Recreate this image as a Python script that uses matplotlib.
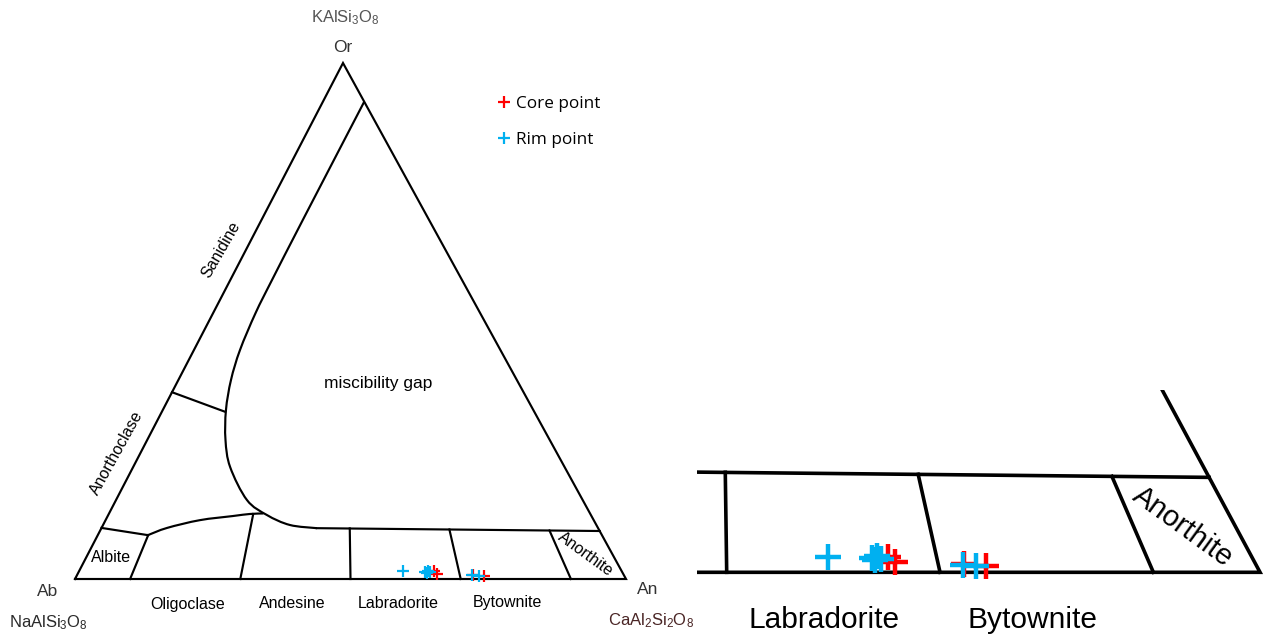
import numpy as np
import matplotlib
matplotlib.use("Agg")
import matplotlib.pyplot as plt
from matplotlib.path import Path
from matplotlib.patches import PathPatch

# ---------------- data (mole fractions) ----------------
core_an = [0.644, 0.653, 0.719, 0.740]
core_or = [0.015, 0.010, 0.008, 0.006]
rim_an = [0.588, 0.629, 0.633, 0.638, 0.633, 0.718, 0.731]
rim_or = [0.015, 0.014, 0.016, 0.013, 0.012, 0.007, 0.006]

# feldspar field boundaries (An, Or fractions)
gap_an = [0.075, 0.075, 0.0757, 0.077, 0.0836, 0.0955, 0.1147, 0.1421, 0.176, 0.2377,
          0.288, 0.339, 0.391]
gap_or = [0.925, 0.700, 0.5795, 0.5155, 0.4438, 0.3857, 0.3275, 0.2694, 0.217, 0.153,
          0.124, 0.1047, 0.0985]
band_an = [0.391, 0.907]
band_or = [0.0985, 0.093]
san_an = [0.0, 0.115]
san_or = [0.362, 0.324]
alb_an = [0.0, 0.091]
alb_or = [0.099, 0.085]
olig_an = [0.091, 0.119, 0.171, 0.227, 0.256, 0.280]
olig_or = [0.085, 0.099, 0.114, 0.122, 0.126, 0.127]
div_ratio = [0.1, 0.3, 0.5, 0.7, 0.9]
div_top_or = [0.085, 0.126, 0.098, 0.096, 0.094]
tri_an = [0.0, 1.0, 0.0, 0.0]
tri_or = [0.0, 0.0, 1.0, 0.0]

# ---------------- layout ----------------
W, H, DPI = 1263, 642, 100
SKEW, HGT = 268 / 551, 516 / 551
RED, BLUE = "#ff0000", "#00b0f0"
FONT = "Liberation Sans"

plt.rcParams["mathtext.fontset"] = "custom"
plt.rcParams["mathtext.rm"] = FONT
plt.rcParams["mathtext.it"] = FONT
plt.rcParams["font.family"] = [FONT, "DejaVu Sans"]


def cart(an, or_):
    an = np.asarray(an, float)
    or_ = np.asarray(or_, float)
    return an + SKEW * or_, HGT * or_


def smooth_path(x, y):
    pts = np.column_stack([x, y])
    n = len(pts)
    verts = [pts[0]]
    codes = [Path.MOVETO]
    for i in range(n - 1):
        p0 = pts[max(i - 1, 0)]
        p1 = pts[i]
        p2 = pts[i + 1]
        p3 = pts[min(i + 2, n - 1)]
        verts += [p1 + (p2 - p0) / 6, p2 - (p3 - p1) / 6, p2]
        codes += [Path.CURVE4] * 3
    return Path(verts, codes)


def draw_diagram(ax, lw, ms, mew):
    x, y = cart(tri_an, tri_or)
    ax.plot(x, y, color="black", lw=lw, solid_joinstyle="miter")
    gx, gy = cart(gap_an, gap_or)
    ax.add_patch(PathPatch(smooth_path(gx, gy), fill=False, lw=lw, ec="black"))
    ox, oy = cart(olig_an, olig_or)
    ax.add_patch(PathPatch(smooth_path(ox, oy), fill=False, lw=lw, ec="black"))
    for a, o in [(band_an, band_or), (san_an, san_or), (alb_an, alb_or)]:
        x, y = cart(a, o)
        ax.plot(x, y, color="black", lw=lw)
    for r, ot in zip(div_ratio, div_top_or):
        x, y = cart([r, r * (1 - ot)], [0.0, ot])
        ax.plot(x, y, color="black", lw=lw)
    cx, cy = cart(core_an, core_or)
    hc, = ax.plot(cx, cy, ls="none", marker="+", ms=ms, mew=mew, color=RED)
    rx, ry = cart(rim_an, rim_or)
    hr, = ax.plot(rx, ry, ls="none", marker="+", ms=ms, mew=mew, color=BLUE)
    return hc, hr


fig = plt.figure(figsize=(W / DPI, H / DPI), dpi=DPI)

# main triangle
ax = fig.add_axes([0, 0, 1, 1])
ax.set_xlim(-75 / 551, (W - 75) / 551)
ax.set_ylim((579 - H) / 551, 579 / 551)
ax.axis("off")
hc, hr = draw_diagram(ax, lw=1.55, ms=9, mew=1.6)

# zoomed inset
ins = fig.add_axes([697 / W, 0, (W - 697) / W, (H - 390) / H])
ins.set_facecolor("none")
s_x, s_y = 1066.7, 1090.0
ins.set_xlim(0.5 + (697 - 726.7) / s_x, 0.5 + (W - 726.7) / s_x)
ins.set_ylim((572.3 - H) / s_y, (572.3 - 390) / s_y)
ins.axis("off")
draw_diagram(ins, lw=2.6, ms=19, mew=3.2)


def ftext(px, py, s, **kw):
    kw.setdefault("ha", "center")
    kw.setdefault("va", "center")
    fig.text(px / W, 1 - py / H, s, **kw)


# field labels (main)
fs = 11.5
ftext(111, 557, "Albite", fontsize=fs)
ftext(188, 605, "Oligoclase", fontsize=fs)
ftext(292, 603, "Andesine", fontsize=fs)
ftext(398, 603, "Labradorite", fontsize=fs)
ftext(507, 603, "Bytownite", fontsize=fs)
ftext(586, 554, "Anorthite", fontsize=fs, rotation=-36, rotation_mode="anchor")
ftext(117, 453, "Anorthoclase", fontsize=fs, rotation=61, rotation_mode="anchor")
ftext(221, 250, "Sanidine", fontsize=fs, rotation=60, rotation_mode="anchor")
ftext(378, 384, "miscibility gap", fontsize=12.5)

# vertex labels
ftext(343, 47, "Or", fontsize=12.5, color="#333333")
ftext(345, 18, r"KAlSi$_3$O$_8$", fontsize=12, color="#555555")
ftext(48, 592, "Ab", fontsize=12.5, color="#333333")
ftext(48, 623, r"NaAlSi$_3$O$_8$", fontsize=12, color="#2a2a2a")
ftext(648, 590, "An", fontsize=12.5, color="#333333")
ftext(651, 621, r"CaAl$_2$Si$_2$O$_8$", fontsize=12, color="#4a2525")

# inset labels
ftext(824, 620, "Labradorite", fontsize=21.5)
ftext(1032, 620, "Bytownite", fontsize=21.5)
ftext(1183, 527, "Anorthite", fontsize=21, rotation=-36, rotation_mode="anchor")

# legend
fig.legend([hc, hr], ["Core point", "Rim point"], loc="upper left",
           bbox_to_anchor=(496 / W, 1 - 96 / H), frameon=False,
           prop={"family": "Open Sans", "size": 12.3}, handlelength=0.9,
           handletextpad=0.3, labelspacing=1.15, borderpad=0, borderaxespad=0)

fig.savefig("out.png", dpi=DPI)
